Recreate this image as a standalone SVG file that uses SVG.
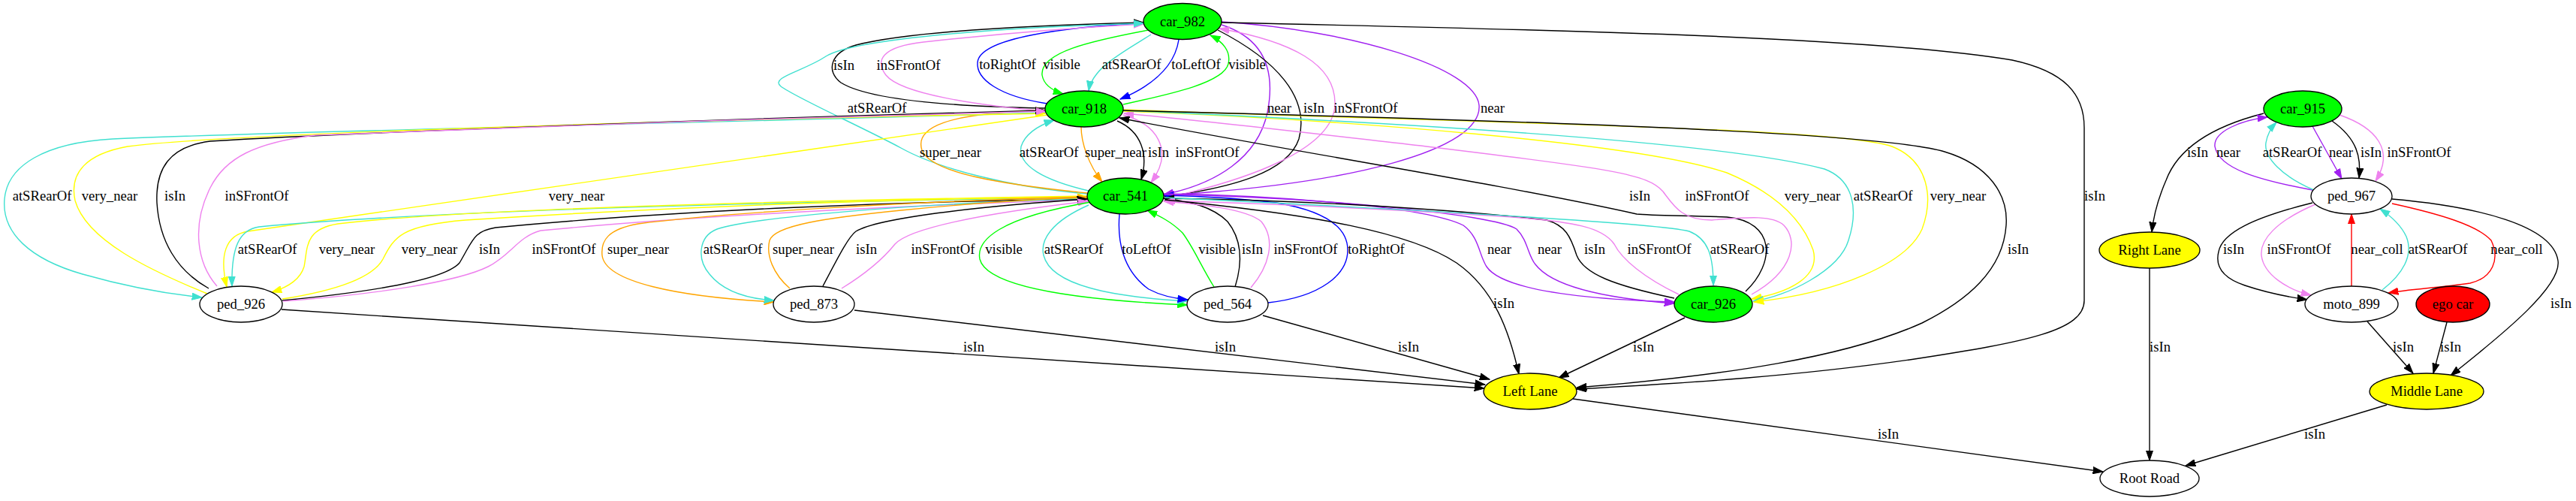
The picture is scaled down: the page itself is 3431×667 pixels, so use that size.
<svg xmlns="http://www.w3.org/2000/svg" width="3431" height="667" viewBox="0 0 3431 667">
<style>
.n{stroke:#000;stroke-width:1.33}
.t{font-family:"Liberation Serif","Times New Roman",serif;font-size:18.67px;text-anchor:middle;fill:#000}
.e{fill:none;stroke-width:1.4}
.k{stroke:#000;marker-end:url(#mk)}
.v{stroke:#ee82ee;marker-end:url(#mv)}
.q{stroke:#40e0d0;marker-end:url(#mq)}
.b{stroke:#0000ff;marker-end:url(#mb)}
.g{stroke:#00ff00;marker-end:url(#mg)}
.p{stroke:#a020f0;marker-end:url(#mp)}
.y{stroke:#ffff00;marker-end:url(#my)}
.o{stroke:#ffa500;marker-end:url(#mo)}
.r{stroke:#ff0000;marker-end:url(#mr)}
</style>
<defs>
<marker id="mk" viewBox="0 0 14 10" refX="13.3" refY="5" markerWidth="14" markerHeight="10" markerUnits="userSpaceOnUse" orient="auto"><path d="M0,0.4 L13.3,5 L0,9.6 z" fill="#000" stroke="#000"/></marker>
<marker id="mv" viewBox="0 0 14 10" refX="13.3" refY="5" markerWidth="14" markerHeight="10" markerUnits="userSpaceOnUse" orient="auto"><path d="M0,0.4 L13.3,5 L0,9.6 z" fill="#ee82ee" stroke="#ee82ee"/></marker>
<marker id="mq" viewBox="0 0 14 10" refX="13.3" refY="5" markerWidth="14" markerHeight="10" markerUnits="userSpaceOnUse" orient="auto"><path d="M0,0.4 L13.3,5 L0,9.6 z" fill="#40e0d0" stroke="#40e0d0"/></marker>
<marker id="mb" viewBox="0 0 14 10" refX="13.3" refY="5" markerWidth="14" markerHeight="10" markerUnits="userSpaceOnUse" orient="auto"><path d="M0,0.4 L13.3,5 L0,9.6 z" fill="#0000ff" stroke="#0000ff"/></marker>
<marker id="mg" viewBox="0 0 14 10" refX="13.3" refY="5" markerWidth="14" markerHeight="10" markerUnits="userSpaceOnUse" orient="auto"><path d="M0,0.4 L13.3,5 L0,9.6 z" fill="#00ff00" stroke="#00ff00"/></marker>
<marker id="mp" viewBox="0 0 14 10" refX="13.3" refY="5" markerWidth="14" markerHeight="10" markerUnits="userSpaceOnUse" orient="auto"><path d="M0,0.4 L13.3,5 L0,9.6 z" fill="#a020f0" stroke="#a020f0"/></marker>
<marker id="my" viewBox="0 0 14 10" refX="13.3" refY="5" markerWidth="14" markerHeight="10" markerUnits="userSpaceOnUse" orient="auto"><path d="M0,0.4 L13.3,5 L0,9.6 z" fill="#ffff00" stroke="#ffff00"/></marker>
<marker id="mo" viewBox="0 0 14 10" refX="13.3" refY="5" markerWidth="14" markerHeight="10" markerUnits="userSpaceOnUse" orient="auto"><path d="M0,0.4 L13.3,5 L0,9.6 z" fill="#ffa500" stroke="#ffa500"/></marker>
<marker id="mr" viewBox="0 0 14 10" refX="13.3" refY="5" markerWidth="14" markerHeight="10" markerUnits="userSpaceOnUse" orient="auto"><path d="M0,0.4 L13.3,5 L0,9.6 z" fill="#ff0000" stroke="#ff0000"/></marker>
</defs>
<rect width="3431" height="667" fill="#fff"/>
<g id="connectors">
<!-- car_982 / car_918 -->
<path class="e b" d="M1395,138 C1330,128 1300,105 1302,83 C1305,50 1420,36 1523,31"/>
<path class="e g" d="M1530,40 C1450,55 1385,70 1388,100 C1390,112 1400,120 1416,125"/>
<path class="e q" d="M1533,46 C1495,70 1455,90 1450,121"/>
<path class="e b" d="M1570,53 C1565,85 1540,112 1492,132"/>
<path class="e g" d="M1496,139 C1560,125 1630,110 1636,85 C1640,68 1628,55 1612,47"/>
<path class="e k" d="M1392,144 C1280,142 1160,135 1120,110 C1100,95 1105,70 1140,60 C1220,40 1400,33 1523,30"/>
<path class="e v" d="M1393,148 C1300,140 1200,125 1180,100 C1165,80 1175,62 1230,56 C1330,45 1430,37 1523,32"/>
<path class="e q" d="M1448,258 C1350,250 1250,225 1200,197 C1150,170 1060,130 1040,115 C1025,103 1070,95 1100,75 C1140,50 1350,36 1523,31"/>
<!-- car_918 / car_541 -->
<path class="e o" d="M1448,257 C1330,245 1240,230 1228,200 C1218,170 1260,150 1392,147"/>
<path class="e q" d="M1450,254 C1390,240 1355,220 1360,195 C1365,180 1380,168 1404,160"/>
<path class="e o" d="M1440,169 C1440,190 1450,220 1468,242"/>
<path class="e k" d="M1488,161 C1520,175 1530,205 1520,239"/>
<path class="e v" d="M1496,153 C1540,165 1565,200 1533,243"/>
<!-- car_982 / car_541 -->
<path class="e p" d="M1627,33 C1680,50 1700,90 1688,150 C1675,210 1620,245 1550,259"/>
<path class="e k" d="M1622,40 C1700,80 1745,130 1730,185 C1715,230 1640,250 1551,262"/>
<path class="e v" d="M1551,264 C1660,240 1775,200 1778,140 C1780,85 1720,55 1624,38"/>
<path class="e p" d="M1627,29 C1800,40 1965,90 1970,140 C1975,200 1800,245 1551,260"/>
<!-- car_918 / ped_926 -->
<path class="e q" d="M1392,150 C900,165 400,174 150,185 C60,190 10,220 6,265 C2,310 40,345 110,365 C170,382 230,392 269,396"/>
<path class="e y" d="M276,391 C200,360 115,320 100,267 C92,230 115,205 170,195 C300,178 900,160 1392,151"/>
<path class="e k" d="M278,384 C235,360 212,320 209,270 C207,225 225,195 280,188 C450,178 900,160 1392,147"/>
<path class="e v" d="M289,381 C262,350 255,300 280,250 C300,210 340,190 420,180 C700,168 1100,155 1393,148"/>
<path class="e y" d="M1395,153 C1000,210 500,285 330,308 C300,313 292,340 302,382"/>
<!-- car_541 / ped_926 -->
<path class="e q" d="M1448,263 C1100,268 600,278 345,302 C318,306 308,330 309,381"/>
<path class="e y" d="M1448,261 C1000,268 600,280 450,298 C405,305 410,330 405,355 C400,372 385,382 362,389"/>
<path class="e y" d="M376,398 C440,388 495,372 510,345 C525,315 535,300 620,293 C900,275 1200,265 1448,262"/>
<path class="e k" d="M376,400 C480,390 590,375 612,350 C630,320 630,308 660,303 C900,280 1200,268 1448,265"/>
<path class="e v" d="M377,401 C500,392 610,375 650,355 C680,340 690,315 720,307 C950,285 1250,272 1448,266"/>
<!-- car_541 / ped_873 -->
<path class="e o" d="M1448,262 C1200,268 950,285 850,298 C810,305 800,320 802,340 C806,375 900,395 1031,402"/>
<path class="e q" d="M1448,264 C1200,272 1000,290 955,305 C930,315 928,345 945,365 C965,390 1000,398 1031,400"/>
<path class="e o" d="M1052,384 C1030,365 1020,340 1025,320 C1032,300 1100,290 1200,280 C1300,270 1380,265 1448,263"/>
<path class="e k" d="M1096,381 C1115,345 1130,315 1140,308 C1170,290 1300,275 1448,265"/>
<path class="e v" d="M1121,384 C1160,360 1180,340 1192,325 C1210,305 1300,285 1449,268"/>
<!-- car_541 / ped_564 -->
<path class="e g" d="M1453,269 C1330,290 1300,320 1305,345 C1315,385 1450,400 1581,406"/>
<path class="e q" d="M1450,273 C1400,295 1385,320 1390,340 C1400,380 1480,395 1581,401"/>
<path class="e b" d="M1491,285 C1488,320 1495,360 1530,385 C1545,393 1560,397 1582,399"/>
<path class="e g" d="M1617,382 C1600,355 1590,330 1575,310 C1560,295 1545,288 1528,280"/>
<path class="e k" d="M1645,382 C1655,350 1655,320 1635,295 C1615,275 1585,268 1550,264"/>
<path class="e v" d="M1666,383 C1690,355 1700,320 1680,295 C1660,278 1600,272 1550,268"/>
<path class="e b" d="M1689,403 C1760,395 1795,365 1795,333 C1795,300 1760,280 1700,270 C1640,263 1600,261 1550,260"/>
<!-- car_541 / car_926 -->
<path class="e p" d="M1550,258 C1700,260 1900,275 1949,300 C1970,315 1970,340 1980,355 C2000,385 2100,398 2230,402"/>
<path class="e p" d="M1550,259 C1750,262 1990,285 2020,305 C2035,320 2035,340 2045,352 C2070,385 2150,398 2230,404"/>
<path class="e k" d="M2230,397 C2150,380 2110,365 2100,340 C2092,315 2085,300 2060,293 C1900,275 1700,266 1551,264"/>
<path class="e v" d="M2236,392 C2190,370 2160,345 2150,325 C2135,303 2100,295 2000,288 C1800,275 1650,270 1552,267"/>
<path class="e q" d="M1551,263 C1800,275 2200,295 2250,308 C2275,318 2282,340 2282,380"/>
<!-- car_918 / car_926 -->
<path class="e k" d="M2325,388 C2365,350 2365,295 2300,289 C2250,287 2200,287 2180,285 C2000,245 1700,198 1491,157"/>
<path class="e v" d="M2333,392 C2390,360 2395,320 2376,300 C2360,285 2320,290 2280,293 C2240,293 2230,275 2215,255 C2195,232 2150,225 1900,195 C1700,172 1600,160 1497,151"/>
<path class="e y" d="M1496,148 C1800,160 2180,190 2300,230 C2360,255 2400,290 2415,333 C2425,370 2380,390 2333,398"/>
<path class="e q" d="M1496,147 C1900,165 2300,190 2430,225 C2470,240 2475,280 2462,320 C2450,360 2380,395 2335,401"/>
<path class="e y" d="M1496,146 C2000,165 2450,170 2520,195 C2570,215 2575,265 2560,305 C2540,350 2450,390 2336,402"/>
<!-- to Left Lane -->
<path class="e k" d="M1496,147 C2000,160 2500,175 2590,202 C2650,220 2675,260 2672,300 C2668,360 2620,400 2560,430 C2460,475 2300,500 2100,516"/>
<path class="e k" d="M1627,30 C2100,40 2500,50 2680,80 C2750,95 2776,125 2776,170 L2776,400 C2776,440 2700,455 2550,478 C2400,500 2250,510 2100,518"/>
<path class="e k" d="M1551,266 C1750,285 1880,310 1940,350 C1990,385 2010,440 2023,498"/>
<path class="e k" d="M2244,423 L2076,503"/>
<path class="e k" d="M375,412 L1977,517"/>
<path class="e k" d="M1138,413 L1978,512"/>
<path class="e k" d="M1682,420 L1984,505"/>
<!-- to Root Road -->
<path class="e k" d="M2095,531 L2801,628"/>
<path class="e k" d="M2863,357 L2863,613"/>
<path class="e k" d="M3179,539 L2911,620"/>
<!-- to Middle Lane -->
<path class="e k" d="M3153,428 L3214,497"/>
<path class="e k" d="M3259,429 L3241,497"/>
<path class="e k" d="M3186,265 C3300,275 3400,300 3407,347 C3412,380 3340,440 3264,500"/>
<!-- car_915 / ped_967 / moto_899 -->
<path class="e k" d="M3015,151 C2940,170 2900,200 2885,240 C2872,270 2868,290 2866,309"/>
<path class="e p" d="M3080,253 C3010,240 2955,225 2950,195 C2948,175 2985,160 3020,156"/>
<path class="e q" d="M3082,253 C3040,235 3015,210 3018,190 C3020,178 3025,170 3032,163"/>
<path class="e p" d="M3080,168 L3119,238"/>
<path class="e k" d="M3106,161 C3140,185 3145,210 3142,237"/>
<path class="e v" d="M3116,153 C3165,170 3190,200 3164,241"/>
<path class="e k" d="M3080,270 C3000,290 2960,310 2955,335 C2950,355 2960,370 2990,380 C3020,390 3045,395 3073,399"/>
<path class="e v" d="M3084,272 C3030,295 3010,320 3012,340 C3015,365 3045,385 3078,393"/>
<path class="e r" d="M3132,381 L3132,285"/>
<path class="e q" d="M3173,386 C3200,365 3215,340 3205,315 C3198,300 3185,288 3170,278"/>
<path class="e r" d="M3186,271 C3250,285 3300,300 3318,320 C3330,345 3320,370 3290,377 C3250,383 3210,385 3181,390"/>
<!-- edge labels -->
<g class="t">
<text x="1342" y="92">toRightOf</text>
<text x="1414" y="92">visible</text>
<text x="1507" y="92">atSRearOf</text>
<text x="1593" y="92">toLeftOf</text>
<text x="1661" y="92">visible</text>
<text x="1124" y="93">isIn</text>
<text x="1210" y="93">inSFrontOf</text>
<text x="1168" y="150">atSRearOf</text>
<text x="1704" y="150">near</text>
<text x="1750" y="150">isIn</text>
<text x="1819" y="150">inSFrontOf</text>
<text x="1988" y="150">near</text>
<text x="1266" y="209">super_near</text>
<text x="1397" y="209">atSRearOf</text>
<text x="1486" y="209">super_near</text>
<text x="1543" y="209">isIn</text>
<text x="1608" y="209">inSFrontOf</text>
<text x="56" y="267">atSRearOf</text>
<text x="146" y="267">very_near</text>
<text x="233" y="267">isIn</text>
<text x="342" y="267">inSFrontOf</text>
<text x="768" y="267">very_near</text>
<text x="2184" y="267">isIn</text>
<text x="2287" y="267">inSFrontOf</text>
<text x="2414" y="267">very_near</text>
<text x="2508" y="267">atSRearOf</text>
<text x="2608" y="267">very_near</text>
<text x="2790" y="267">isIn</text>
<text x="356" y="338">atSRearOf</text>
<text x="462" y="338">very_near</text>
<text x="572" y="338">very_near</text>
<text x="652" y="338">isIn</text>
<text x="751" y="338">inSFrontOf</text>
<text x="850" y="338">super_near</text>
<text x="976" y="338">atSRearOf</text>
<text x="1070" y="338">super_near</text>
<text x="1154" y="338">isIn</text>
<text x="1256" y="338">inSFrontOf</text>
<text x="1337" y="338">visible</text>
<text x="1430" y="338">atSRearOf</text>
<text x="1527" y="338">toLeftOf</text>
<text x="1621" y="338">visible</text>
<text x="1668" y="338">isIn</text>
<text x="1739" y="338">inSFrontOf</text>
<text x="1833" y="338">toRightOf</text>
<text x="1997" y="338">near</text>
<text x="2064" y="338">near</text>
<text x="2124" y="338">isIn</text>
<text x="2210" y="338">inSFrontOf</text>
<text x="2317" y="338">atSRearOf</text>
<text x="2688" y="338">isIn</text>
<text x="2927" y="209">isIn</text>
<text x="2968" y="209">near</text>
<text x="3053" y="209">atSRearOf</text>
<text x="3118" y="209">near</text>
<text x="3158" y="209">isIn</text>
<text x="3222" y="209">inSFrontOf</text>
<text x="2975" y="338">isIn</text>
<text x="3062" y="338">inSFrontOf</text>
<text x="3166" y="338">near_coll</text>
<text x="3247" y="338">atSRearOf</text>
<text x="3352" y="338">near_coll</text>
<text x="2003" y="410">isIn</text>
<text x="3411" y="410">isIn</text>
<text x="1297" y="468">isIn</text>
<text x="1632" y="468">isIn</text>
<text x="1876" y="468">isIn</text>
<text x="2189" y="468">isIn</text>
<text x="2877" y="468">isIn</text>
<text x="3201" y="468">isIn</text>
<text x="3264" y="468">isIn</text>
<text x="2515" y="584">isIn</text>
<text x="3083" y="584">isIn</text>
</g>
</g>
<g id="car_982"><ellipse class="n" cx="1575" cy="28.5" rx="52" ry="24" fill="#00ff00"/><text class="t" x="1575" y="34.5">car_982</text></g>
<g id="car_918"><ellipse class="n" cx="1444" cy="145" rx="52" ry="24" fill="#00ff00"/><text class="t" x="1444" y="151">car_918</text></g>
<g id="car_541"><ellipse class="n" cx="1499" cy="261" rx="51" ry="24" fill="#00ff00"/><text class="t" x="1499" y="267">car_541</text></g>
<g id="ped_926"><ellipse class="n" cx="321" cy="405" rx="55" ry="24" fill="#fff"/><text class="t" x="321" y="411">ped_926</text></g>
<g id="ped_873"><ellipse class="n" cx="1084" cy="405" rx="54" ry="24" fill="#fff"/><text class="t" x="1084" y="411">ped_873</text></g>
<g id="ped_564"><ellipse class="n" cx="1635" cy="405" rx="54" ry="24" fill="#fff"/><text class="t" x="1635" y="411">ped_564</text></g>
<g id="car_926"><ellipse class="n" cx="2282" cy="405" rx="52" ry="24" fill="#00ff00"/><text class="t" x="2282" y="411">car_926</text></g>
<g id="Left_Lane"><ellipse class="n" cx="2038" cy="521" rx="62" ry="24" fill="#ffff00"/><text class="t" x="2038" y="527">Left Lane</text></g>
<g id="Root_Road"><ellipse class="n" cx="2863" cy="637" rx="66" ry="24" fill="#fff"/><text class="t" x="2863" y="643">Root Road</text></g>
<g id="Middle_Lane"><ellipse class="n" cx="3232" cy="521" rx="76" ry="24" fill="#ffff00"/><text class="t" x="3232" y="527">Middle Lane</text></g>
<g id="moto_899"><ellipse class="n" cx="3132" cy="405" rx="62" ry="24" fill="#fff"/><text class="t" x="3132" y="411">moto_899</text></g>
<g id="ego_car"><ellipse class="n" cx="3267" cy="405" rx="49" ry="24" fill="#ff0000"/><text class="t" x="3267" y="411">ego car</text></g>
<g id="ped_967"><ellipse class="n" cx="3132" cy="261" rx="54" ry="24" fill="#fff"/><text class="t" x="3132" y="267">ped_967</text></g>
<g id="car_915"><ellipse class="n" cx="3067" cy="145" rx="52" ry="24" fill="#00ff00"/><text class="t" x="3067" y="151">car_915</text></g>
<g id="Right_Lane"><ellipse class="n" cx="2863" cy="333" rx="67" ry="24" fill="#ffff00"/><text class="t" x="2863" y="339">Right Lane</text></g>
</svg>
